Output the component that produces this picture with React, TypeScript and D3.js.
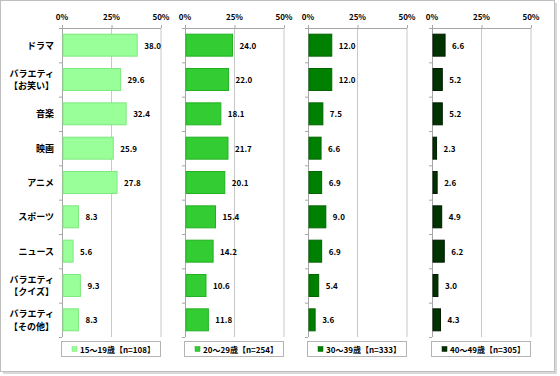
import React from "react";
import * as d3 from "d3";

const categories = [
  ["ドラマ"],
  ["バラエティ", "【お笑い】"],
  ["音楽"],
  ["映画"],
  ["アニメ"],
  ["スポーツ"],
  ["ニュース"],
  ["バラエティ", "【クイズ】"],
  ["バラエティ", "【その他】"],
];
const seriesNames = ["15～19歳【n=108】", "20～29歳【n=254】", "30～39歳【n=333】", "40～49歳【n=305】"];
const s1 = [38.0, 29.6, 32.4, 25.9, 27.8, 8.3, 5.6, 9.3, 8.3];
const s2 = [24.0, 22.0, 18.1, 21.7, 20.1, 15.4, 14.2, 10.6, 11.8];
const s3 = [12.0, 12.0, 7.5, 6.6, 6.9, 9.0, 6.9, 5.4, 3.6];
const s4 = [6.6, 5.2, 5.2, 2.3, 2.6, 4.9, 6.2, 3.0, 4.3];
const ticks = [0, 25, 50];

const fills = ["#99FF99", "#33CC33", "#008000", "#003300"];
const strokes = ["#7fe87f", "#22b022", "#006400", "#001a00"];

const FONT = "'Noto Sans CJK JP', 'Noto Sans', sans-serif";

export default function App() {
  const W = 560, H = 376;
  const top = 28, bottom = 337;
  const panelLefts = [62, 185, 308, 432];
  const panelW = 99;
  const series = [s1, s2, s3, s4];
  const y = d3.scaleBand<number>().domain(d3.range(categories.length)).range([top, bottom]).paddingInner(0.36).paddingOuter(0.18);
  const yb = d3.scaleBand<number>().domain(d3.range(categories.length)).range([top, bottom]);

  return (
    <svg width={W} height={H} style={{ position: "absolute", left: 0, top: 0 }} fontFamily={FONT}>
      <rect x={0} y={0} width={W} height={H} fill="#fff" />
      <rect x={3} y={3} width={554} height={371} fill="#d9d9d9" />
      <rect x={0.5} y={0.5} width={554} height={371} fill="#fff" stroke="#bfbfbf" />
      {/* category labels */}
      {categories.map((lines, i) => {
        const cy = yb(i)! + yb.bandwidth() / 2;
        return lines.map((t, j) => (
          <text key={i + "-" + j} x={54} y={cy + (lines.length === 1 ? 0 : (j - 0.5) * 12.5)} textAnchor="end" dominantBaseline="central" fontSize={9} fontWeight="bold" fill="#000">
            {t}
          </text>
        ));
      })}
      {series.map((vals, p) => {
        const x0 = panelLefts[p];
        const x = d3.scaleLinear().domain([0, 50]).range([x0, x0 + panelW]);
        return (
          <g key={p}>
            {ticks.slice(1).map((t) => (
              <line key={t} x1={x(t)} x2={x(t)} y1={top} y2={bottom} stroke="#c8c8c8" strokeWidth={1} />
            ))}
            <line x1={x0} x2={x0 + panelW} y1={top + 0.5} y2={top + 0.5} stroke="#a6a6a6" />
            {ticks.map((t) => (
              <g key={t}>
                <line x1={x(t) + 0.5} x2={x(t) + 0.5} y1={top - 3} y2={top} stroke="#a6a6a6" />
                <text x={x(t)} y={top - 12} textAnchor="middle" dominantBaseline="central" fontSize={8} fontWeight="bold" fill="#000">
                  {t}%
                </text>
              </g>
            ))}
            <line x1={x0 + 0.5} x2={x0 + 0.5} y1={top} y2={bottom} stroke="#a6a6a6" />
            {d3.range(categories.length + 1).map((i) => {
              const yy = i < categories.length ? yb(i)! : bottom;
              return <line key={i} x1={x0 - 3} x2={x0} y1={yy + 0.5} y2={yy + 0.5} stroke="#a6a6a6" />;
            })}
            {vals.map((v, i) => (
              <g key={i}>
                <rect x={x0 + 1} y={y(i)!} width={x(v) - x0 - 1} height={y.bandwidth()} fill={fills[p]} stroke={strokes[p]} strokeWidth={1} />
                <text x={x(v) + 7} y={y(i)! + y.bandwidth() / 2} dominantBaseline="central" fontSize={8} fontWeight="bold" fill="#000">
                  {v.toFixed(1)}
                </text>
              </g>
            ))}
            <rect x={x0 - 0.5} y={341.5} width={panelW} height={15} fill="#fff" stroke="#b4b4b4" />
            <rect x={x0 + 10} y={346.5} width={5} height={5} fill={fills[p]} stroke={strokes[p]} strokeWidth={0.5} />
            <text x={x0 + 18} y={349.5} dominantBaseline="central" fontSize={8} fontWeight="bold" fill="#000">
              {seriesNames[p]}
            </text>
          </g>
        );
      })}
    </svg>
  );
}
